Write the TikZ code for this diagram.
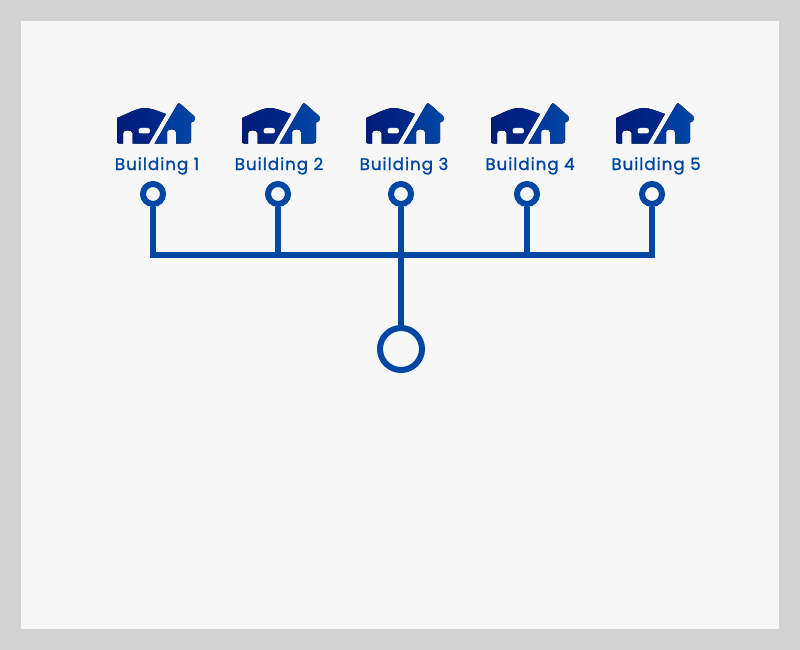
\documentclass[tikz,border=0pt]{standalone}
\usepackage{fontspec}
\setmainfont[FakeBold=1.2]{Poppins}
\definecolor{bluemain}{HTML}{0047A3}
\definecolor{navy}{HTML}{001C78}
\definecolor{midblue}{HTML}{002A8C}
\definecolor{rightstart}{HTML}{00349A}
\definecolor{pagegrey}{HTML}{D3D3D3}
\definecolor{panel}{HTML}{F7F7F7}
\tikzset{
  x=1pt,y=-1pt,
  wire/.style={draw=bluemain,line width=6pt,line cap=butt},
  smallring/.style={circle,draw=bluemain,line width=6pt,fill=panel,minimum size=20pt,inner sep=0pt},
  bigring/.style={circle,draw=bluemain,line width=6pt,fill=panel,minimum size=42pt,inner sep=0pt},
  label/.style={text=bluemain,font=\fontsize{16.8}{18}\selectfont\addfontfeature{LetterSpace=5.5},inner sep=0pt,anchor=base},
  pics/bicon/.style={code={
    \fill[left color=navy,right color=midblue]
      (0,16) -- (0,39.5) .. controls (0,41) and (0.5,41.5) .. (2,41.5) -- (6,41.5) -- (6,31)
      .. controls (6,27.5) and (15.5,27.5) .. (15.5,31) -- (15.5,41.5)
      -- (32,41.5) -- (49,12) .. controls (38,8) and (33,6) .. (28,6)
      .. controls (20,6) and (12,11) .. (0,16) -- cycle;
    \fill[panel,rounded corners=2.4pt] (21.5,26) rectangle (33,31.5);
    \fill[left color=rightstart,right color=bluemain]
      (37.5,41.5) -- (60,3) .. controls (61,1) and (62,0.5) .. (63.5,2) -- (77,14)
      .. controls (79,16) and (78,20) .. (74,20.5)
      -- (74,38.5) .. controls (74,41) and (73,41.5) .. (71,41.5)
      -- (59,41.5) -- (59,30) .. controls (59,26.5) and (50,26.5) .. (50,30) -- (50,41.5) -- cycle;
  }}
}
\begin{document}
\begin{tikzpicture}
\useasboundingbox (0,0) rectangle (800,650);
\fill[pagegrey] (0,0) rectangle (800,650);
\fill[panel] (21,21) rectangle (779,629);
\foreach \i/\ix/\lx/\cx in {1/117/157/153,2/242/279/278,3/366/404/401,4/491/530/527,5/616/656/652}{
  \pic (icon\i) at (\ix,102) {bicon};
  \node[label] (lab\i) at (\lx,170) {Building \i};
  \coordinate (bus\i) at (\cx,255);
}
\node[smallring] (c1) at (153,194) {};
\node[smallring] (c2) at (278,194) {};
\node[smallring] (c3) at (401,194) {};
\node[smallring] (c4) at (527,194) {};
\node[smallring] (c5) at (652,194) {};
\node[bigring] (hub) at (401,349) {};
\draw[wire,line join=miter] (c1.south) -- (bus1) -- (bus5) -- (c5.south);
\draw[wire] (c2.south) -- (bus2);
\draw[wire] (c4.south) -- (bus4);
\draw[wire] (c3.south) -- (hub.north);
\end{tikzpicture}
\end{document}
